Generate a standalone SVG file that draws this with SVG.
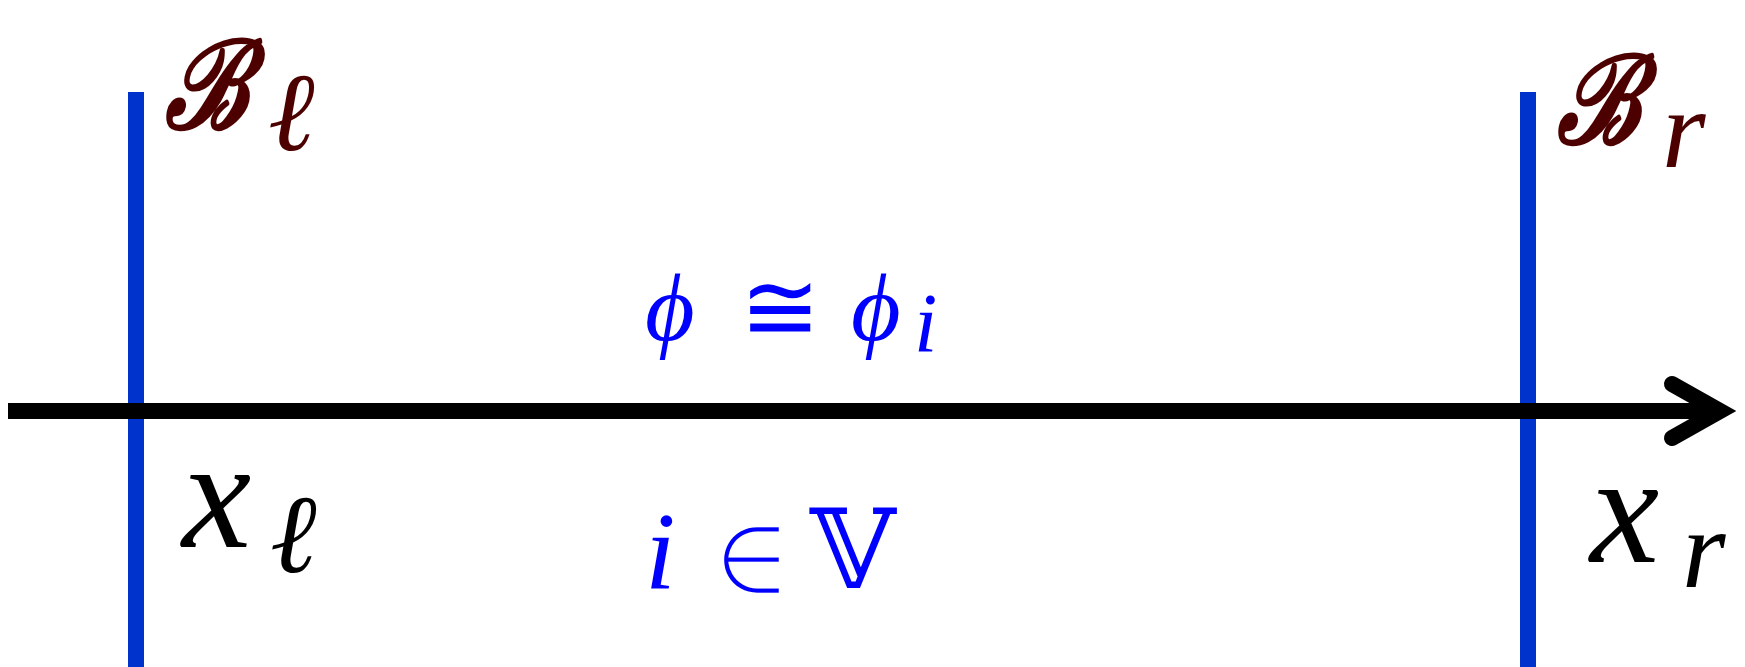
<svg xmlns="http://www.w3.org/2000/svg" width="1745" height="667" viewBox="0 0 1745 667">
<style>
.bar{fill:#0033CC}
.ax{stroke:#000;stroke-width:16;fill:none}
.m{font-family:"Liberation Serif","DejaVu Serif",serif;font-style:italic}
.s{font-family:"DejaVu Serif","Liberation Serif",serif}
.thin{font-family:"DejaVu Serif",serif;stroke:#fff;stroke-width:4.5}
.cal{font-family:"DejaVu Serif",serif;font-style:italic;stroke:#4D0000;stroke-width:3.5;stroke-linejoin:round}
.blue{fill:#0000FF}
.dark{fill:#4D0000}
.blk{fill:#000}
</style>
<rect width="1745" height="667" fill="#fff"/>
<g id="boundary-left"><rect class="bar" x="128" y="92" width="16" height="575"/></g>
<g id="boundary-right"><rect class="bar" x="1520" y="92" width="16" height="575"/></g>
<g id="connectors">
<line class="ax" x1="8" y1="411" x2="1712" y2="411"/>
<polyline class="ax" points="1672,384 1720,411 1672,438" stroke-linecap="round" stroke-linejoin="miter" stroke-miterlimit="10"/>
</g>
<g id="label-Bl"><text class="cal dark" font-size="100" transform="translate(165,128) scale(1,1.22)">ℬ</text><text class="m dark" x="268" y="150" font-size="112">ℓ</text></g>
<g id="label-Br"><text class="cal dark" font-size="100" transform="translate(1557,143) scale(1,1.22)">ℬ</text><text class="m dark" x="1662" y="167" font-size="112">r</text></g>
<g id="label-phi"><text class="blue" x="645" y="340" font-size="96"><tspan class="m">ϕ</tspan><tspan class="s" x="740">≅</tspan><tspan class="m" x="851">ϕ</tspan><tspan class="m" x="914" y="352" font-size="84">i</tspan></text></g>
<g id="label-xl"><text class="m blk" x="182" y="547" font-size="156">x</text><text class="m blk" x="270" y="572" font-size="112">ℓ</text></g>
<g id="label-iV"><text class="blue" x="645" y="588" font-size="110"><tspan class="m">i</tspan><tspan class="s" x="810">𝕍</tspan></text><text class="thin blue" x="710" y="595" font-size="112">∈</text></g>
<g id="label-xr"><text class="m blk" x="1590" y="562" font-size="156">x</text><text class="m blk" x="1682" y="587" font-size="112">r</text></g>
</svg>
